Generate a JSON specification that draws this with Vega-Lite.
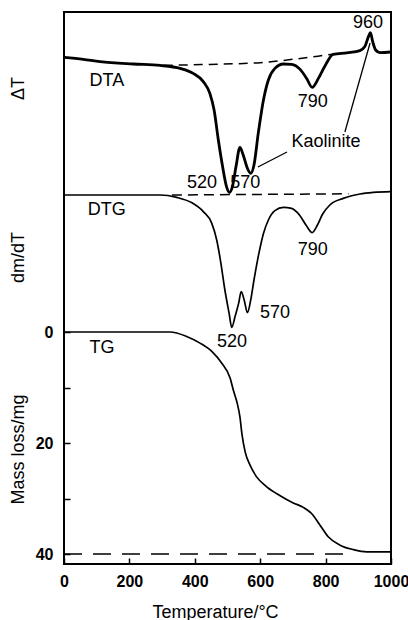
{
  "$schema": "https://vega.github.io/schema/vega-lite/v6.json",
  "width": 327,
  "height": 552,
  "autosize": {"type": "none"},
  "padding": {"left": 64, "top": 12, "right": 17, "bottom": 56},
  "background": "white",
  "config": {
    "view": {"stroke": "black", "strokeWidth": 2},
    "font": "Liberation Sans",
    "axis": {"grid": false, "domain": false, "labelFont": "Liberation Sans", "titleFont": "Liberation Sans", "labelColor": "black", "titleColor": "black", "tickColor": "black", "titleFontWeight": "normal"},
    "text": {"font": "Liberation Sans", "fontSize": 18, "color": "black"}
  },
  "datasets": {
    "dta": [
      {"T": 0, "a": 1.3}, {"T": 59, "a": 0.3}, {"T": 110, "a": -0.8}, {"T": 212, "a": -2}, {"T": 294, "a": -2.7},
      {"T": 355, "a": -4.2}, {"T": 395, "a": -6.7}, {"T": 426, "a": -10.8}, {"T": 446, "a": -16.7}, {"T": 459, "a": -25},
      {"T": 472, "a": -40}, {"T": 485, "a": -53.3}, {"T": 497, "a": -63.3}, {"T": 506, "a": -66.2}, {"T": 515, "a": -63.3},
      {"T": 526, "a": -53.3}, {"T": 538, "a": -43.7}, {"T": 548, "a": -47.5}, {"T": 561, "a": -54.2}, {"T": 571, "a": -56.7},
      {"T": 581, "a": -52.5}, {"T": 594, "a": -36.7}, {"T": 610, "a": -20}, {"T": 625, "a": -10}, {"T": 645, "a": -4.2},
      {"T": 671, "a": -2}, {"T": 696, "a": -2.2}, {"T": 722, "a": -4.7}, {"T": 742, "a": -9.2}, {"T": 759, "a": -13.7},
      {"T": 778, "a": -9.2}, {"T": 798, "a": -3.0}, {"T": 823, "a": 2.8}, {"T": 865, "a": 3.6}, {"T": 905, "a": 4.7},
      {"T": 920, "a": 6.7}, {"T": 931, "a": 11.7}, {"T": 937, "a": 13.7}, {"T": 944, "a": 9.2}, {"T": 953, "a": 5},
      {"T": 966, "a": 3.7}, {"T": 1000, "a": 4}
    ],
    "dtaBase": [
      {"T": 305, "a": -2.7}, {"T": 420, "a": -2.3}, {"T": 520, "a": -1.9}, {"T": 600, "a": -1.35}, {"T": 700, "a": 0.35}, {"T": 804, "a": 2.5}, {"T": 823, "a": 2.9}
    ],
    "dtaLeader": [
      {"T": 593, "a": -53.5, "T2": 682, "a2": -46},
      {"T": 936, "a": 8.5, "T2": 859, "a2": -36}
    ],
    "dtaText": [
      {"T": 131, "a": -10.5, "label": "DTA"}, {"T": 930, "a": 18.5, "label": "960"}, {"T": 761, "a": -21, "label": "790"},
      {"T": 801, "a": -41, "label": "Kaolinite"}, {"T": 422, "a": -61.5, "label": "520"}, {"T": 554, "a": -61.5, "label": "570"}
    ],
    "dtg": [
      {"T": 0, "d": 0}, {"T": 294, "d": 0}, {"T": 345, "d": -1.2}, {"T": 390, "d": -3.8}, {"T": 426, "d": -8.3},
      {"T": 452, "d": -14.2}, {"T": 467, "d": -22.5}, {"T": 479, "d": -33.3}, {"T": 492, "d": -47.5}, {"T": 505, "d": -59.2},
      {"T": 513, "d": -66.2}, {"T": 523, "d": -60.8}, {"T": 534, "d": -54.2}, {"T": 542, "d": -48.3}, {"T": 551, "d": -52.5},
      {"T": 561, "d": -58.8}, {"T": 571, "d": -52.5}, {"T": 581, "d": -42.5}, {"T": 594, "d": -30.8}, {"T": 610, "d": -19.2},
      {"T": 625, "d": -12.5}, {"T": 645, "d": -7.8}, {"T": 671, "d": -6.2}, {"T": 696, "d": -6.7}, {"T": 720, "d": -10},
      {"T": 740, "d": -15}, {"T": 759, "d": -18.8}, {"T": 775, "d": -15}, {"T": 791, "d": -9.5}, {"T": 813, "d": -5},
      {"T": 854, "d": -1.7}, {"T": 905, "d": 0.5}, {"T": 946, "d": 1.3}, {"T": 1000, "d": 1.7}
    ],
    "dtgBase": [{"T": 330, "d": 0}, {"T": 870, "d": 0.6}],
    "dtgText": [
      {"T": 131, "d": -7.5, "label": "DTG"}, {"T": 761, "d": -27.5, "label": "790"},
      {"T": 645, "d": -59, "label": "570"}, {"T": 514, "d": -73.5, "label": "520"}
    ],
    "tg": [
      {"T": 0, "m": 0}, {"T": 324, "m": 0}, {"T": 375, "m": 0.8}, {"T": 416, "m": 2.0}, {"T": 452, "m": 3.5},
      {"T": 482, "m": 5.6}, {"T": 508, "m": 8.3}, {"T": 518, "m": 10.5}, {"T": 530, "m": 12.9}, {"T": 538, "m": 15.3},
      {"T": 544, "m": 18.3}, {"T": 554, "m": 21.6}, {"T": 569, "m": 24.0}, {"T": 589, "m": 26.1}, {"T": 620, "m": 27.9},
      {"T": 661, "m": 29.5}, {"T": 701, "m": 30.8}, {"T": 732, "m": 31.6}, {"T": 757, "m": 32.7}, {"T": 783, "m": 34.8},
      {"T": 808, "m": 36.9}, {"T": 844, "m": 38.4}, {"T": 885, "m": 39.2}, {"T": 926, "m": 39.6}, {"T": 1000, "m": 39.6}
    ],
    "tgBase": [{"T": 0, "m": 40}, {"T": 885, "m": 40}],
    "tgText": [{"T": 116, "m": 2.9, "label": "TG"}]
  },
  "encoding": {
    "x": {
      "field": "T", "type": "quantitative",
      "scale": {"domain": [0, 1000], "nice": false, "zero": false},
      "axis": {
        "values": [0, 200, 400, 600, 800, 1000], "format": "d", "tickSize": -6, "tickWidth": 1.5, "labelPadding": 15,
        "labelFontSize": 16, "labelFontWeight": "bold", "labelFlush": false,
        "title": "Temperature/°C", "titleFontSize": 18, "titleX": 151, "titleY": 53, "titleBaseline": "alphabetic", "titleAnchor": "middle", "titleAlign": "center"
      }
    }
  },
  "layer": [
    {
      "data": {"name": "tg"},
      "mark": {"type": "line", "color": "black", "strokeWidth": 1.7, "interpolate": "monotone"},
      "encoding": {
        "y": {"field": "m", "type": "quantitative", "scale": {"domain": [-57.66, 41.8], "reverse": true, "nice": false, "zero": false},
          "axis": {"orient": "left", "values": [0, 10, 20, 30, 40], "labelExpr": "datum.value == 10 || datum.value == 30 ? '' : datum.label",
            "tickSize": -6, "tickWidth": 1.5, "labelPadding": 17, "labelFontSize": 16, "labelFontWeight": "bold", "labelFlush": false,
            "title": "Mass loss/mg", "titleFontSize": 18, "titleAngle": 270, "titleX": -46, "titleY": 437, "titleAlign": "center", "titleBaseline": "middle"}}
      }
    },
    {
      "data": {"name": "dta"},
      "mark": {"type": "line", "color": "black", "strokeWidth": 2.8, "interpolate": "monotone"},
      "encoding": {
        "y": {"field": "a", "type": "quantitative", "scale": {"domain": [-252, 24], "nice": false, "zero": false},
          "axis": {"orient": "left", "labels": false, "ticks": false, "domain": false, "title": "ΔT", "titleFontSize": 18, "titleAngle": 270, "titleX": -46, "titleY": 76, "titleAlign": "center", "titleBaseline": "middle"}}
      }
    },
    {
      "data": {"name": "dtg"},
      "mark": {"type": "line", "color": "black", "strokeWidth": 1.7, "interpolate": "monotone"},
      "encoding": {
        "y": {"field": "d", "type": "quantitative", "scale": {"domain": [-184.5, 91.5], "nice": false, "zero": false},
          "axis": {"orient": "left", "labels": false, "ticks": false, "domain": false, "title": "dm/dT", "titleFontSize": 18, "titleAngle": 270, "titleX": -46, "titleY": 245, "titleAlign": "center", "titleBaseline": "middle"}}
      }
    },
    {
      "data": {"name": "dtaBase"},
      "mark": {"type": "line", "color": "black", "strokeWidth": 1.5, "strokeDash": [9, 6], "interpolate": "monotone"},
      "encoding": {"y": {"field": "a", "type": "quantitative", "scale": {"domain": [-252, 24], "nice": false, "zero": false}, "axis": null}}
    },
    {
      "data": {"name": "dtaLeader"},
      "mark": {"type": "rule", "color": "black", "strokeWidth": 1.3},
      "encoding": {"x2": {"field": "T2"}, "y": {"field": "a", "type": "quantitative", "scale": {"domain": [-252, 24], "nice": false, "zero": false}, "axis": null}, "y2": {"field": "a2"}}
    },
    {
      "data": {"name": "dtaText"},
      "mark": {"type": "text", "align": "center", "baseline": "middle"},
      "encoding": {"y": {"field": "a", "type": "quantitative", "scale": {"domain": [-252, 24], "nice": false, "zero": false}, "axis": null}, "text": {"field": "label"}}
    },
    {
      "data": {"name": "dtgBase"},
      "mark": {"type": "line", "color": "black", "strokeWidth": 1.5, "strokeDash": [10, 6]},
      "encoding": {"y": {"field": "d", "type": "quantitative", "scale": {"domain": [-184.5, 91.5], "nice": false, "zero": false}, "axis": null}}
    },
    {
      "data": {"name": "dtgText"},
      "mark": {"type": "text", "align": "center", "baseline": "middle"},
      "encoding": {"y": {"field": "d", "type": "quantitative", "scale": {"domain": [-184.5, 91.5], "nice": false, "zero": false}, "axis": null}, "text": {"field": "label"}}
    },
    {
      "data": {"name": "tgBase"},
      "mark": {"type": "line", "color": "black", "strokeWidth": 1.5, "strokeDash": [18, 11]},
      "encoding": {"y": {"field": "m", "type": "quantitative", "scale": {"domain": [-57.66, 41.8], "reverse": true, "nice": false, "zero": false}, "axis": null}}
    },
    {
      "data": {"name": "tgText"},
      "mark": {"type": "text", "align": "center", "baseline": "middle"},
      "encoding": {"y": {"field": "m", "type": "quantitative", "scale": {"domain": [-57.66, 41.8], "reverse": true, "nice": false, "zero": false}, "axis": null}, "text": {"field": "label"}}
    }
  ],
  "resolve": {"scale": {"y": "independent"}}
}
